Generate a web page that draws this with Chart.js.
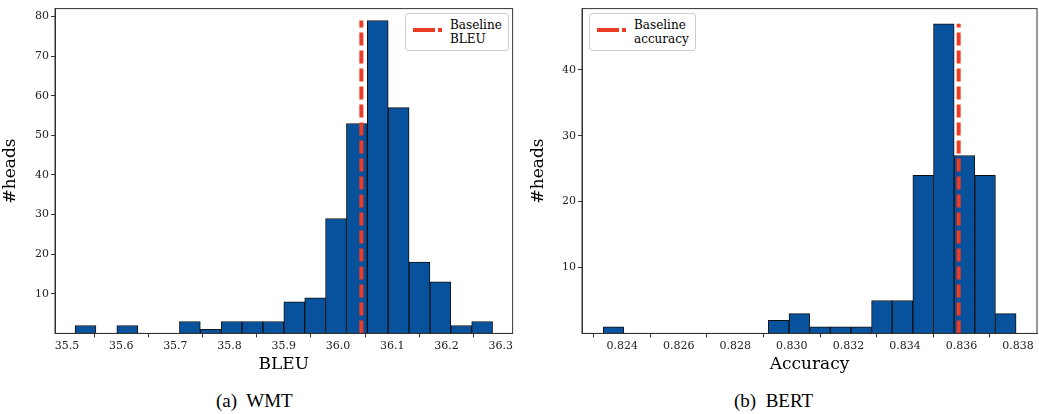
<!DOCTYPE html>
<html><head><meta charset="utf-8">
<script src="https://cdn.jsdelivr.net/npm/chart.js@4/dist/chart.umd.min.js"></script>
<style>
body{margin:0;background:#fff;width:1039px;height:414px;position:relative;overflow:hidden;font-family:"DejaVu Serif",serif}
.box{position:absolute;top:0;height:375px}
.cap{position:absolute;top:390px;font-family:"Liberation Serif",serif;font-size:19px;color:#000}
.leg{position:absolute;border:1px solid #ccc;border-radius:3px;background:#fff;font-size:12px;line-height:14px;padding:4px 6px 4px 44px}
.leg i{position:absolute;left:7px;top:14px;width:22px;border-top:4px solid #ee3b24}
.leg b{position:absolute;left:32px;top:14px;width:4px;border-top:4px solid #ee3b24}
</style></head><body>
<div class="box" style="left:0;width:515px"><canvas id="c1"></canvas></div>
<div class="box" style="left:528px;width:511px"><canvas id="c2"></canvas></div>
<div class="leg" style="left:405px;top:13px">Baseline<br>BLEU<i></i><b></b></div>
<div class="leg" style="left:589px;top:13px">Baseline<br>accuracy<i></i><b></b></div>
<div class="cap" style="left:216px">(a)&nbsp; WMT</div>
<div class="cap" style="left:734px">(b)&nbsp; BERT</div>
<script>
// ── WMT histogram ──
const wmtStart = 35.515, wmtWidth = 0.0385;
const wmtCounts = [2,0,2,0,0,3,1,3,3,3,8,9,29,53,79,57,18,13,2,3];
const wmtBaseline = 36.043;
const wmtTicks = [35.5,35.6,35.7,35.8,35.9,36.0,36.1,36.2,36.3];

// ── BERT histogram ──
const bertStart = 0.82333, bertWidth = 0.00073;
const bertCounts = [1,0,0,0,0,0,0,0,2,3,1,1,1,5,5,24,47,27,24,3];
const bertBaseline = 0.8359;
const bertTicks = [0.824,0.826,0.828,0.830,0.832,0.834,0.836,0.838];

function makeHist(id, start, w, counts, base, ticks, xmin, xmax, ymax, yTicks, xTitle, dec, leftW) {
  const bars = counts.map((c, i) => ({x: start + w * (i + 0.5), y: c}));
  new Chart(document.getElementById(id), {
    data: {
      datasets: [
        {type: 'line', data: [{x: base, y: 0}, {x: base, y: Math.max(...counts)}], borderColor: '#ee3b24',
         borderWidth: 4, borderDash: [13, 5], pointRadius: 0, order: 0},
        {type: 'bar', data: bars, backgroundColor: '#08519c', borderColor: '#111', borderWidth: 1,
         barPercentage: 1, categoryPercentage: 1, grouped: false, order: 1}
      ]
    },
    options: {
      responsive: true, maintainAspectRatio: false, animation: false,
      layout: {padding: {top: 6, right: 2}},
      plugins: {legend: {display: false}, tooltip: {enabled: false}},
      scales: {
        x: {type: 'linear', offset: false, min: xmin, max: xmax,
            grid: {drawOnChartArea: false, drawTicks: true, tickLength: 4, color: '#333'},
            border: {color: '#333'},
            afterBuildTicks: a => { a.ticks = ticks.map(v => ({value: v})); },
            ticks: {color: '#222', font: {family: 'DejaVu Serif', size: 11}, maxRotation: 0, padding: 2, callback: v => v.toFixed(dec)},
            title: {display: true, text: xTitle, color: '#000', font: {family: 'DejaVu Serif', size: 17}, padding: 0}},
        y: {min: 0, max: ymax, grid: {drawOnChartArea: false, drawTicks: true, tickLength: 4, color: '#333'}, border: {color: '#333'},
            afterBuildTicks: a => { a.ticks = yTicks.map(v => ({value: v})); },
            afterFit: a => { a.width = leftW; },
            ticks: {color: '#222', font: {family: 'DejaVu Serif', size: 11}, padding: 2},
            title: {display: true, text: '#heads', color: '#000', font: {family: 'DejaVu Serif', size: 17}, padding: 0}}
      }
    },
    plugins: [{id: 'frame', afterDraw(c) { const a = c.chartArea, x = c.ctx;
      x.save(); x.strokeStyle = '#333'; x.lineWidth = 1; x.strokeRect(a.left, a.top, a.right - a.left, a.bottom - a.top); x.restore(); }}]
  });
}
makeHist('c1', wmtStart, wmtWidth, wmtCounts, wmtBaseline, wmtTicks, 35.478, 36.322, 82, [10,20,30,40,50,60,70,80], 'BLEU', 1, 55);
makeHist('c2', bertStart, bertWidth, bertCounts, bertBaseline, bertTicks, 0.82258, 0.83867, 49.3, [10,20,30,40], 'Accuracy', 3, 54);
</script></body></html>
